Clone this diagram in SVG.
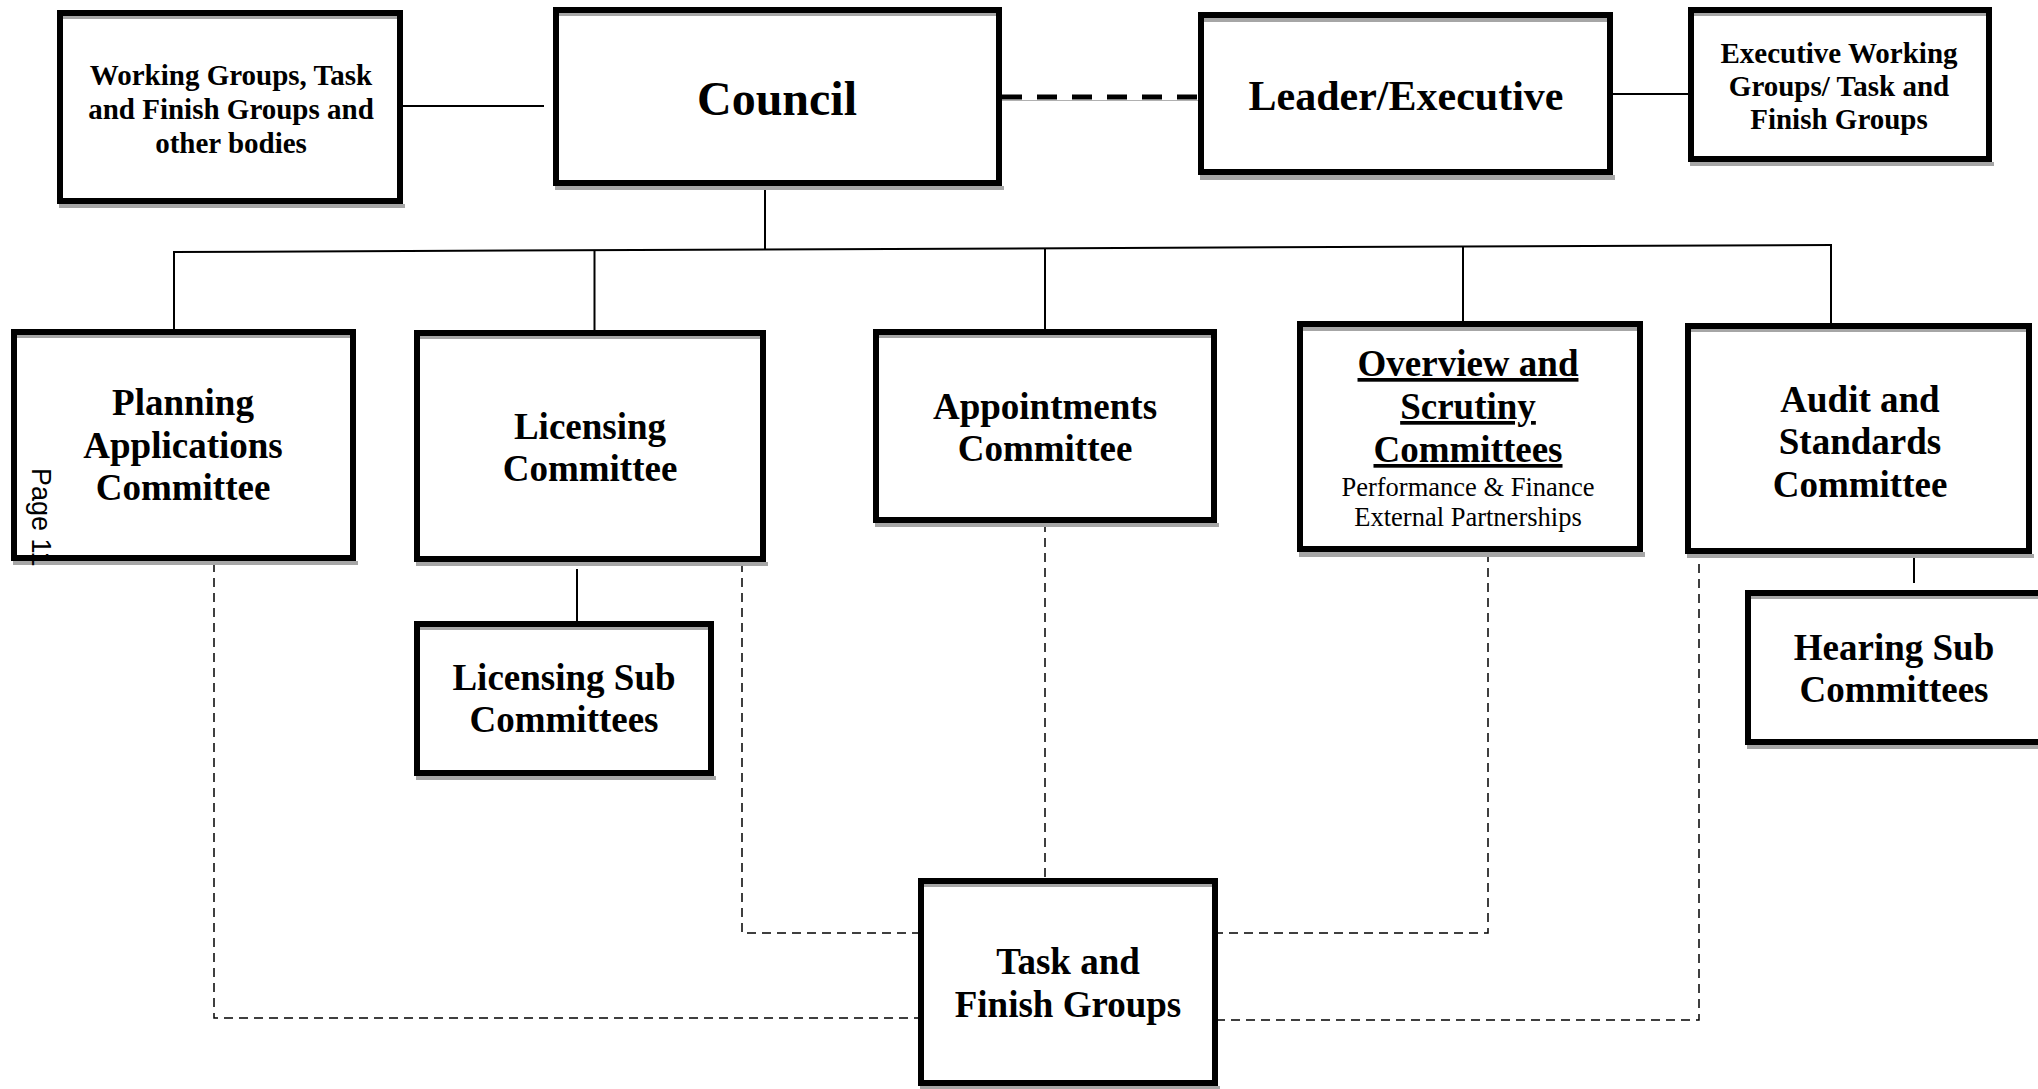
<svg xmlns="http://www.w3.org/2000/svg" width="2038" height="1089" viewBox="0 0 2038 1089">
<style>
.box{fill:#ffffff;stroke:#000000;stroke-width:6}
.sh{fill:#a6a6a6}
.t{font-family:"Liberation Serif","Times New Roman",serif;font-weight:bold;fill:#000;text-anchor:middle}
.t37{font-size:37px}
.t29{font-size:29px}
.r{font-family:"Liberation Serif","Times New Roman",serif;font-weight:normal;fill:#000;text-anchor:middle;font-size:26.5px}
.ln{stroke:#000;stroke-width:2;fill:none}
.dl{stroke:#000;stroke-width:1.5;fill:none;stroke-dasharray:9 6}
.thick{stroke:#000;stroke-width:5;fill:none;stroke-dasharray:20 15}
</style>
<rect x="0" y="0" width="2038" height="1089" fill="#ffffff"/>
<g id="connectors">
  <line class="ln" x1="403" y1="106" x2="544" y2="106"/>
  <line x1="1002" y1="100.5" x2="1198" y2="100.5" stroke="#b0b0b0" stroke-width="1"/>
  <line class="thick" x1="1002" y1="97" x2="1198" y2="97"/>
  <line class="ln" x1="1613" y1="94" x2="1688" y2="94"/>
  <line class="ln" x1="765" y1="186" x2="765" y2="249.5"/>
  <line class="ln" x1="173" y1="252" x2="1832" y2="245" stroke-width="2.5"/>
  <line class="ln" x1="174" y1="252" x2="174" y2="330"/>
  <line class="ln" x1="594.5" y1="250" x2="594.5" y2="331"/>
  <line class="ln" x1="1045" y1="248" x2="1045" y2="330"/>
  <line class="ln" x1="1463" y1="246.5" x2="1463" y2="322"/>
  <line class="ln" x1="1831" y1="245" x2="1831" y2="324"/>
  <line class="ln" x1="577" y1="569" x2="577" y2="622"/>
  <line class="ln" x1="1914" y1="556" x2="1914" y2="583"/>
  <polyline class="dl" points="214,563 214,1018 918,1018"/>
  <polyline class="dl" points="742,563 742,933 918,933"/>
  <polyline class="dl" points="1045,523 1045,878"/>
  <polyline class="dl" points="1488,553 1488,933 1218,933"/>
  <polyline class="dl" points="1699,549 1699,1020 1218,1020"/>
</g>
<g id="working-groups">
  <rect class="sh" x="59" y="204" width="346" height="4"/>
  <rect class="box" x="60" y="13" width="340" height="188"/>
  <rect class="sh" x="63" y="16" width="334" height="3"/>
  <text class="t t29" x="231" y="85">Working Groups, Task</text>
  <text class="t t29" x="231" y="119">and Finish Groups and</text>
  <text class="t t29" x="231" y="153">other bodies</text>
</g>
<g id="council">
  <rect class="sh" x="555" y="186" width="449" height="4"/>
  <rect class="box" x="556" y="10" width="443" height="173"/>
  <rect class="sh" x="559" y="13" width="437" height="3"/>
  <text class="t" x="777" y="115" font-size="48">Council</text>
</g>
<g id="leader-executive">
  <rect class="sh" x="1200" y="175" width="415" height="5"/>
  <rect class="box" x="1201" y="15" width="409" height="157"/>
  <rect class="sh" x="1204" y="18" width="403" height="4"/>
  <text class="t" x="1406" y="110" font-size="42">Leader/Executive</text>
</g>
<g id="executive-working-groups">
  <rect class="sh" x="1690" y="162" width="304" height="4"/>
  <rect class="box" x="1691" y="10" width="298" height="149"/>
  <rect class="sh" x="1694" y="13" width="292" height="3"/>
  <text class="t t29" x="1839" y="63">Executive Working</text>
  <text class="t t29" x="1839" y="96">Groups/ Task and</text>
  <text class="t t29" x="1839" y="129">Finish Groups</text>
</g>
<g id="planning-applications">
  <rect class="sh" x="13" y="561" width="345" height="4"/>
  <rect class="box" x="14" y="332" width="339" height="226"/>
  <rect class="sh" x="17" y="335" width="333" height="3"/>
  <text class="t t37" x="183" y="415">Planning</text>
  <text class="t t37" x="183" y="458">Applications</text>
  <text class="t t37" x="183" y="500">Committee</text>
</g>
<g id="licensing-committee">
  <rect class="sh" x="416" y="562" width="352" height="4"/>
  <rect class="box" x="417" y="333" width="346" height="226"/>
  <rect class="sh" x="420" y="336" width="340" height="3"/>
  <text class="t t37" x="590" y="439">Licensing</text>
  <text class="t t37" x="590" y="481">Committee</text>
</g>
<g id="appointments-committee">
  <rect class="sh" x="875" y="523" width="344" height="4"/>
  <rect class="box" x="876" y="332" width="338" height="188"/>
  <rect class="sh" x="879" y="335" width="332" height="3"/>
  <text class="t t37" x="1045" y="419">Appointments</text>
  <text class="t t37" x="1045" y="461">Committee</text>
</g>
<g id="overview-scrutiny">
  <rect class="sh" x="1299" y="552" width="346" height="5"/>
  <rect class="box" x="1300" y="324" width="340" height="225"/>
  <rect class="sh" x="1303" y="327" width="334" height="4"/>
  <text class="t t37" x="1468" y="376" text-decoration="underline">Overview and</text>
  <text class="t t37" x="1468" y="419" text-decoration="underline">Scrutiny</text>
  <text class="t t37" x="1468" y="462" text-decoration="underline">Committees</text>
  <text class="r" x="1468" y="496">Performance &amp; Finance</text>
  <text class="r" x="1468" y="526">External Partnerships</text>
</g>
<g id="audit-standards">
  <rect class="sh" x="1687" y="554" width="347" height="4"/>
  <rect class="box" x="1688" y="326" width="341" height="225"/>
  <rect class="sh" x="1691" y="329" width="335" height="3"/>
  <text class="t t37" x="1860" y="412">Audit and</text>
  <text class="t t37" x="1860" y="454">Standards</text>
  <text class="t t37" x="1860" y="497">Committee</text>
</g>
<g id="licensing-sub-committees">
  <rect class="sh" x="416" y="776" width="300" height="4"/>
  <rect class="box" x="417" y="624" width="294" height="149"/>
  <rect class="sh" x="420" y="627" width="288" height="3"/>
  <text class="t t37" x="564" y="690">Licensing Sub</text>
  <text class="t t37" x="564" y="732">Committees</text>
</g>
<g id="hearing-sub-committees">
  <rect class="sh" x="1747" y="745" width="310" height="4"/>
  <rect class="box" x="1748" y="593" width="304" height="149"/>
  <rect class="sh" x="1751" y="596" width="298" height="3"/>
  <text class="t t37" x="1894" y="660">Hearing Sub</text>
  <text class="t t37" x="1894" y="702">Committees</text>
</g>
<g id="task-finish-groups">
  <rect class="sh" x="920" y="1086" width="300" height="4"/>
  <rect class="box" x="921" y="881" width="294" height="202"/>
  <rect class="sh" x="924" y="884" width="288" height="3"/>
  <text class="t t37" x="1068" y="974">Task and</text>
  <text class="t t37" x="1068" y="1017">Finish Groups</text>
</g>
<text transform="translate(32,468) rotate(90)" font-family="'Liberation Sans',Arial,sans-serif" font-size="27" fill="#000">Page 11</text>
</svg>
